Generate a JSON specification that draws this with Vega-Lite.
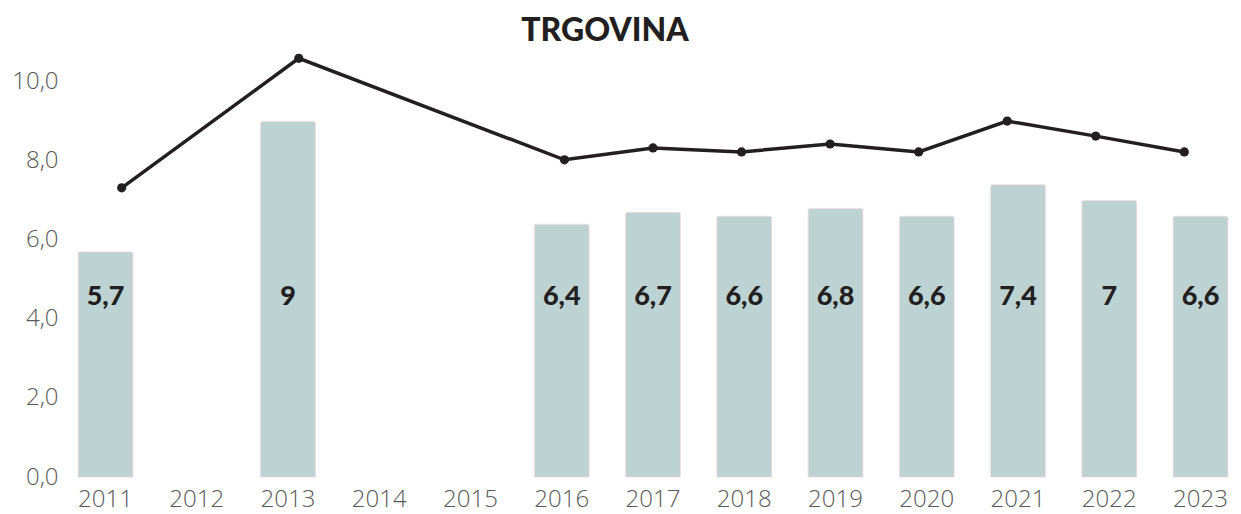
{
  "$schema": "https://vega.github.io/schema/vega-lite/v6.json",
  "width": 1168,
  "height": 427,
  "autosize": {"type": "none"},
  "padding": {"left": 69, "top": 50, "right": 4, "bottom": 37},
  "background": "white",
  "config": {
    "view": {"stroke": null},
    "locale": {"number": {"decimal": ",", "thousands": ".", "grouping": [3], "currency": ["", " €"]}}
  },
  "title": {
    "text": "TRGOVINA",
    "font": "Lato",
    "fontWeight": 900,
    "fontSize": 32,
    "color": "#231F20",
    "anchor": "middle",
    "dx": -48,
    "dy": 6,
    "offset": 8
  },
  "datasets": {
    "bars": [
      {"year": "2011", "value": 5.7},
      {"year": "2013", "value": 9.0},
      {"year": "2016", "value": 6.4},
      {"year": "2017", "value": 6.7},
      {"year": "2018", "value": 6.6},
      {"year": "2019", "value": 6.8},
      {"year": "2020", "value": 6.6},
      {"year": "2021", "value": 7.4},
      {"year": "2022", "value": 7.0},
      {"year": "2023", "value": 6.6}
    ],
    "line": [
      {"year": "2011", "value": 7.32},
      {"year": "2013", "value": 10.6},
      {"year": "2016", "value": 8.03},
      {"year": "2017", "value": 8.33},
      {"year": "2018", "value": 8.23},
      {"year": "2019", "value": 8.43},
      {"year": "2020", "value": 8.23},
      {"year": "2021", "value": 9.01},
      {"year": "2022", "value": 8.63},
      {"year": "2023", "value": 8.23}
    ]
  },
  "resolve": {"scale": {"x": "independent"}},
  "layer": [
    {
      "data": {"name": "bars"},
      "encoding": {
        "x": {
          "field": "year",
          "type": "ordinal",
          "scale": {
            "domain": ["2011","2012","2013","2014","2015","2016","2017","2018","2019","2020","2021","2022","2023"],
            "paddingInner": 0.4,
            "paddingOuter": 0.1
          },
          "axis": {
            "title": null,
            "labelAngle": 0,
            "domain": false,
            "ticks": false,
            "labelFont": "Open Sans",
            "labelFontWeight": 300,
            "labelFontSize": 24,
            "labelColor": "#595959",
            "labelPadding": 10
          }
        }
      },
      "layer": [
        {
          "mark": {"type": "bar", "color": "#BCD2D3", "stroke": "#EBCFD2", "strokeWidth": 0.6, "cornerRadiusTopLeft": 2, "cornerRadiusTopRight": 2},
          "encoding": {
            "y": {
              "field": "value",
              "type": "quantitative",
              "scale": {"domain": [0, 10.81], "nice": false},
              "axis": {
                "title": null,
                "values": [0, 2, 4, 6, 8, 10],
                "format": ".1f",
                "grid": false,
                "domain": false,
                "ticks": false,
                "labelFont": "Open Sans",
                "labelFontWeight": 300,
                "labelFontSize": 24,
                "labelColor": "#595959",
                "labelPadding": 11
              }
            }
          }
        },
        {
          "mark": {
            "type": "text",
            "font": "Lato",
            "fontWeight": 900,
            "fontSize": 27,
            "color": "#231F20",
            "baseline": "middle"
          },
          "encoding": {
            "y": {"datum": 4.56},
            "text": {"field": "value", "type": "quantitative", "format": ".1~f"}
          }
        }
      ]
    },
    {
      "data": {"name": "line"},
      "mark": {
        "type": "line",
        "color": "#231F20",
        "strokeWidth": 3.5,
        "point": {"filled": true, "color": "#231F20", "size": 85}
      },
      "encoding": {
        "x": {
          "field": "year",
          "type": "ordinal",
          "scale": {
            "type": "point",
            "domain": ["2011","2012","2013","2014","2015","2016","2017","2018","2019","2020","2021","2022","2023"],
            "padding": 0.595
          },
          "axis": null
        },
        "y": {"field": "value", "type": "quantitative"}
      }
    }
  ]
}
